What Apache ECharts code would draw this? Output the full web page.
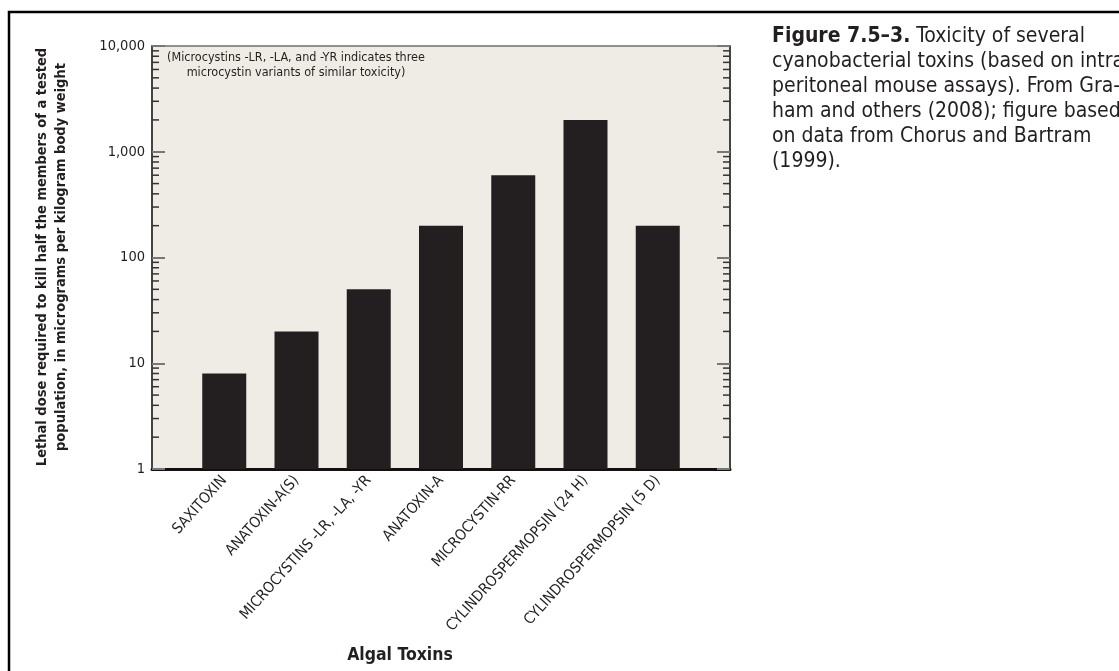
<!DOCTYPE html>
<html>
<head>
<meta charset="utf-8">
<script src="https://cdn.jsdelivr.net/npm/echarts@6/dist/echarts.min.js"></script>
<style>html,body{margin:0;padding:0;background:#fff}#c{width:1119px;height:671px}</style>
</head>
<body>
<div id="c"></div>
<script>
const categories = ['SAXITOXIN', 'ANATOXIN-A(S)', 'MICROCYSTINS -LR, -LA, -YR', 'ANATOXIN-A', 'MICROCYSTIN-RR', 'CYLINDROSPERMOPSIN (24 H)', 'CYLINDROSPERMOPSIN (5 D)'];
const ld50Values = [8, 20, 50, 200, 600, 2000, 200];
const yTickValues = [1, 10, 100, 1000, 10000];
const minorTickValues = [];
for (let d = 1; d < 10000; d *= 10) { for (let m = 2; m <= 9; m++) minorTickValues.push(m * d); }

const FONT = '"DejaVu Sans Condensed", "Liberation Sans Narrow", "Liberation Sans", sans-serif';
const INK = '#231f20';

const xData = [''].concat(categories, ['']);
const barData = [null].concat(ld50Values, [null]);

const chart = echarts.init(document.getElementById('c'));
chart.setOption({
  animation: false,
  textStyle: { fontFamily: FONT },
  grid: { left: 152, right: 389, top: 46, bottom: 202, show: true, backgroundColor: '#efece5', borderWidth: 0 },
  xAxis: [{
    type: 'category', data: xData, boundaryGap: false,
    axisLine: { lineStyle: { color: '#111', width: 3 } },
    axisTick: { show: false },
    axisLabel: { interval: 0, rotate: 48, margin: 9, fontSize: 15, color: INK, fontFamily: FONT },
    splitLine: { show: false }
  }, {
    type: 'category', data: xData, boundaryGap: false, position: 'top',
    axisLine: { lineStyle: { color: '#6d6d6d', width: 1.5 } },
    axisTick: { show: false }, axisLabel: { show: false }
  }],
  yAxis: [{
    type: 'log', logBase: 10, min: 1, max: 10000, interval: 1,
    axisLine: { show: true, lineStyle: { color: '#444', width: 2 } },
    axisTick: { show: true, inside: true, length: 13, lineStyle: { color: '#777', width: 2 } },
    axisLabel: { fontSize: 14.5, color: INK, margin: 7, fontFamily: FONT,
      formatter: v => Number(v).toLocaleString('en-US') },
    splitLine: { show: false }
  }, {
    type: 'log', logBase: 10, min: 1, max: 10000, interval: 1, position: 'right',
    axisLine: { show: true, lineStyle: { color: '#444', width: 2 } },
    axisTick: { show: true, inside: true, length: 13, lineStyle: { color: '#777', width: 2 } },
    axisLabel: { show: false }, splitLine: { show: false }
  }],
  series: [{
    type: 'bar', data: barData, barWidth: 44, itemStyle: { color: INK }, silent: true
  }, {
    type: 'custom', silent: true, z: 5,
    data: minorTickValues.map(v => [0, v]),
    renderItem: function (params, api) {
      const y = api.coord([0, api.value(1)])[1];
      const cs = params.coordSys;
      const st = { stroke: '#333', lineWidth: 1.5 };
      return { type: 'group', children: [
        { type: 'line', shape: { x1: cs.x, y1: y, x2: cs.x + 7, y2: y }, style: st },
        { type: 'line', shape: { x1: cs.x + cs.width - 7, y1: y, x2: cs.x + cs.width, y2: y }, style: st }
      ] };
    }
  }],
  graphic: [
    { type: 'rect', z: -10, shape: { x: 9, y: 12, width: 1300, height: 900 }, style: { fill: 'none', stroke: '#000', lineWidth: 2.5 } },
    { type: 'text', x: 296, y: 65, style: { text: '(Microcystins -LR, -LA, and -YR indicates three\nmicrocystin variants of similar toxicity)', font: '12.5px ' + FONT, fill: INK, textAlign: 'center', textVerticalAlign: 'middle', lineHeight: 15 }, z: 20 },
    { type: 'text', x: 52, y: 257, rotation: Math.PI / 2, style: { text: 'Lethal dose required to kill half the members of a tested\npopulation, in micrograms per kilogram body weight', font: 'bold 14.5px ' + FONT, fill: INK, textAlign: 'center', textVerticalAlign: 'middle', lineHeight: 19 } },
    { type: 'text', x: 400, y: 655, style: { text: 'Algal Toxins', font: 'bold 17.5px ' + FONT, fill: INK, textAlign: 'center', textVerticalAlign: 'middle' } },
    { type: 'text', x: 772, y: 24, style: {
      text: '{b|Figure 7.5–3.} Toxicity of several\ncyanobacterial toxins (based on intra\nperitoneal mouse assays). From Gra-\nham and others (2008); figure based\non data from Chorus and Bartram\n(1999).',
      font: '21px ' + FONT, fill: INK, lineHeight: 25, textVerticalAlign: 'top',
      rich: { b: { fontWeight: 'bold', fontSize: 21, fontFamily: FONT, lineHeight: 25 } }
    } }
  ]
});
</script>
</body>
</html>
